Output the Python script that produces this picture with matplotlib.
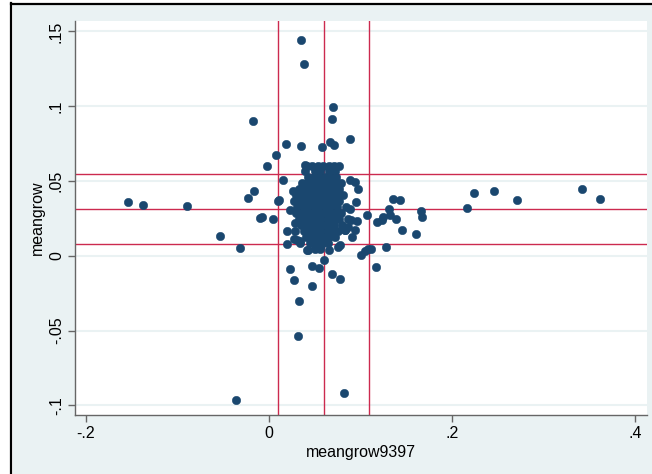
import numpy as np
import matplotlib
matplotlib.use("Agg")
import matplotlib.pyplot as plt
from matplotlib.lines import Line2D
from matplotlib.patches import Rectangle

plt.rcParams["font.family"] = ["Liberation Sans", "DejaVu Sans"]

# outlying points
out_x = [0.035, 0.0386, 0.070, 0.069, 0.0186, 0.035, 0.0576, 0.0667, 0.0714, 0.0885,
         -0.0171, 0.0077, -0.0025, 0.0157, -0.016, -0.0226, 0.011, 0.0397,
         -0.1545, -0.138, -0.0893, -0.0098, -0.008, 0.0047, 0.0095, -0.0535, -0.0313,
         -0.0364, 0.023, 0.0277, 0.0324, 0.0317, 0.0193, 0.020, 0.0277,
         0.0412, 0.0474, 0.055, 0.0605, 0.0474, 0.0685, 0.078, 0.0816, 0.0656, 0.0757,
         0.078, 0.100, 0.105, 0.1078, 0.1115, 0.128, 0.1166, 0.0904, 0.0568, 0.1607,
         0.145, 0.0827, 0.342, 0.3614, 0.271, 0.2462, 0.224, 0.2164, 0.1665, 0.1672,
         0.1359, 0.1432, 0.1308, 0.1388, 0.125, 0.118, 0.107, 0.0954, 0.0973,
         0.094, 0.0885, 0.083, 0.094, 0.090, 0.0958, 0.034, 0.043, 0.023, 0.0284,
         0.0284, 0.0339, 0.132, 0.123, 0.026, 0.088, 0.086, 0.031]
out_y = [0.144, 0.128, 0.0997, 0.0917, 0.075, 0.0736, 0.0725, 0.0759, 0.0743, 0.0783,
         0.0904, 0.0676, 0.0602, 0.0504, 0.0435, 0.039, 0.0375, 0.0609,
         0.0359, 0.0337, 0.0332, 0.025, 0.0257, 0.0248, 0.0368, 0.0132, 0.0054,
         -0.0962, -0.0089, -0.016, -0.0299, -0.0538, 0.0163, 0.0082, 0.0112,
         0.0036, -0.0067, -0.0083, -0.0031, -0.0199, -0.0123, -0.0154, -0.0919, 0.0036, 0.0058,
         0.0074, 0.0007, 0.0033, 0.0045, 0.0047, 0.0056, -0.0076, 0.0125, 0.0074, 0.0147,
         0.0174, 0.017, 0.0444, 0.0379, 0.0373, 0.0433, 0.042, 0.0319, 0.0303, 0.0259,
         0.0379, 0.0373, 0.0315, 0.0248, 0.0261, 0.0225, 0.0272, 0.0361, 0.0444,
         0.0495, 0.0507, 0.0174, 0.0174, 0.0241, 0.023, 0.0085, 0.004, 0.0308, 0.0219,
         0.0163, 0.0096, 0.0274, 0.024, 0.0435, 0.0315, 0.0195, 0.0105]

# dense centre of the cloud, row by row
core_rows = {
    0.0600: [0.041, 0.047, 0.053, 0.059, 0.065, 0.071, 0.0765],
    0.0565: [0.039, 0.050, 0.056, 0.066, 0.072],
    0.0525: [0.043, 0.049, 0.055, 0.061, 0.067, 0.073],
    0.0485: [0.036, 0.042, 0.048, 0.054, 0.060, 0.066, 0.072, 0.079],
    0.0445: [0.033, 0.040, 0.046, 0.052, 0.058, 0.064, 0.070, 0.076],
    0.0405: [0.030, 0.037, 0.043, 0.049, 0.055, 0.061, 0.067, 0.073, 0.081],
    0.0365: [0.027, 0.034, 0.040, 0.046, 0.052, 0.058, 0.064, 0.070, 0.077],
    0.0325: [0.031, 0.037, 0.043, 0.049, 0.055, 0.061, 0.067, 0.074, 0.084],
    0.0285: [0.029, 0.036, 0.042, 0.048, 0.054, 0.060, 0.066, 0.072, 0.079],
    0.0245: [0.033, 0.039, 0.045, 0.051, 0.057, 0.063, 0.069, 0.076, 0.086],
    0.0205: [0.035, 0.041, 0.047, 0.053, 0.059, 0.065, 0.071, 0.080],
    0.0165: [0.038, 0.045, 0.051, 0.057, 0.063, 0.069, 0.075],
    0.0125: [0.040, 0.048, 0.054, 0.060, 0.066, 0.072],
    0.0085: [0.045, 0.051, 0.058, 0.064],
    0.0045: [0.050, 0.056],
}
core_x = [x for y, xs in core_rows.items() for x in xs]
core_y = [y for y, xs in core_rows.items() for x in xs]

# reference lines
xline_vals = [0.0098, 0.0598, 0.109]
yline_vals = [0.0082, 0.0311, 0.0549]

xticks = [-0.2, 0.0, 0.2, 0.4]
xtick_labels = ["-.2", "0", ".2", ".4"]
yticks = [-0.1, -0.05, 0.0, 0.05, 0.1, 0.15]
ytick_labels = ["-.1", "-.05", "0", ".05", ".1", ".15"]

W, H = 652, 474
fig = plt.figure(figsize=(W / 100, H / 100), dpi=100, facecolor="white")

# Stata-like outer background + cropped frame
fig.add_artist(Rectangle((12.5 / W, 0), 1, 1 - 5 / H, transform=fig.transFigure,
                         facecolor="#eaf2f3", edgecolor="none", zorder=-10))
fig.add_artist(Line2D([11 / W, 11 / W], [0, 1 - 3 / H], transform=fig.transFigure,
                      color="black", lw=1.6, zorder=-5))
fig.add_artist(Line2D([11 / W, 1], [1 - 4 / H, 1 - 4 / H], transform=fig.transFigure,
                      color="black", lw=1.6, zorder=-5))

ax = fig.add_axes([75 / W, (H - 415) / H, (647 - 75) / W, (415 - 21) / H])
ax.set_zorder(1)
ax.set_facecolor("white")
ax.set_xlim(-0.212, 0.413)
ax.set_ylim(-0.1064, 0.157)

for y in yticks:
    ax.axhline(y, color="#eaf2f3", lw=1.5, zorder=1)

for v in xline_vals:
    ax.axvline(v, color="#cc2a4f", lw=1.0, zorder=2)
for v in yline_vals:
    ax.axhline(v, color="#cc2a4f", lw=1.0, zorder=2)

ax.scatter(out_x + core_x, out_y + core_y, s=36, color="#1a476f",
           edgecolors="#1a476f", linewidths=0.4, zorder=3)

for s in ["top", "right"]:
    ax.spines[s].set_visible(False)
for s in ["left", "bottom"]:
    ax.spines[s].set_color("#666666")
    ax.spines[s].set_linewidth(1.0)

ax.set_xticks(xticks)
ax.set_xticklabels(xtick_labels, fontsize=11.5)
ax.set_yticks(yticks)
ax.set_yticklabels(ytick_labels, fontsize=11.5, rotation=90, va="center")
ax.tick_params(direction="out", length=5, color="#666666", width=1.0, pad=3)

ax.set_xlabel("meangrow9397", fontsize=11.5, labelpad=3)
ax.set_ylabel("meangrow", fontsize=11.5, labelpad=3)

fig.savefig("out.png", dpi=100, facecolor=fig.get_facecolor())
